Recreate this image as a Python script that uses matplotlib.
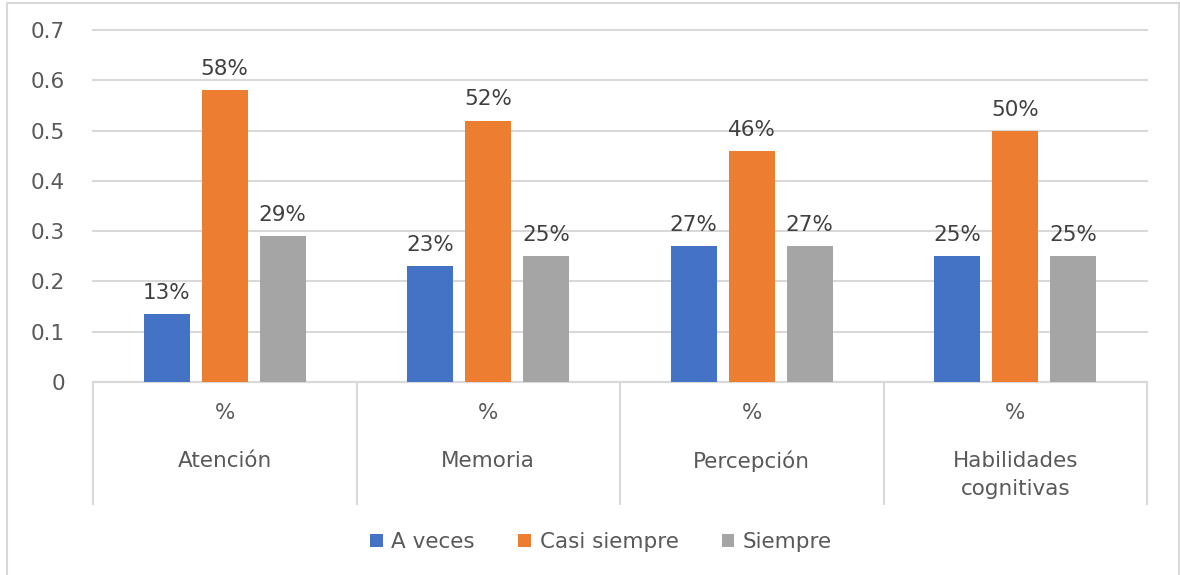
import numpy as np
import matplotlib.pyplot as plt
import matplotlib.patches as mpatches
import matplotlib.transforms as mtransforms

## Data

categorias = ['Atención', 'Memoria', 'Percepción', 'Habilidades\ncognitivas']
a_veces = [0.135, 0.23, 0.27, 0.25]
casi_siempre = [0.58, 0.52, 0.46, 0.50]
siempre = [0.29, 0.25, 0.27, 0.25]
etiquetas = {
    'A veces': ['13%', '23%', '27%', '25%'],
    'Casi siempre': ['58%', '52%', '46%', '50%'],
    'Siempre': ['29%', '25%', '27%', '25%'],
}

## Global Setting

plt.rcParams['font.family'] = ['DejaVu Sans']
plt.rcParams['font.size'] = 15

colores = ['#4472C4', '#ED7D31', '#A5A5A5']
grid_c = '#D9D9D9'
txt_c = '#595959'
fs = 15.5

fig = plt.figure(figsize=(11.8, 5.75), dpi=100)
ax = fig.add_axes([93/1180, 1-382/575, 1054/1180, 352/575])

# outer border
fig.patches.append(mpatches.Rectangle((7/1180, -0.05), 1172/1180, 1.05-3/575,
                                      transform=fig.transFigure, fill=False,
                                      edgecolor=grid_c, lw=1.5))

x = np.arange(len(categorias))
ancho = 0.175
paso = 0.22

series = [('A veces', a_veces), ('Casi siempre', casi_siempre), ('Siempre', siempre)]
for i, (nombre, vals) in enumerate(series):
    bars = ax.bar(x + (i-1)*paso, vals, ancho, color=colores[i], label=nombre, zorder=3)
    for b, t in zip(bars, etiquetas[nombre]):
        ax.text(b.get_x() + b.get_width()/2, b.get_height() + 0.022, t,
                ha='center', va='bottom', color='#404040', fontsize=fs)

ax.set_xlim(-0.5, 3.5)
ax.set_ylim(0, 0.7)
ax.set_yticks(np.arange(0, 0.71, 0.1))
ax.set_yticklabels(['0', '0.1', '0.2', '0.3', '0.4', '0.5', '0.6', '0.7'])
ax.yaxis.grid(True, color=grid_c, lw=1.5, zorder=0)
for gl in ax.get_ygridlines():
    gl.set_clip_on(False)
ax.tick_params(axis='y', length=0, pad=20, colors=txt_c, labelsize=fs)
ax.set_xticks([])
for s in ['top', 'right', 'left']:
    ax.spines[s].set_visible(False)
ax.spines['bottom'].set_color(grid_c)
ax.spines['bottom'].set_linewidth(1.5)

# multi-level category axis
trans = mtransforms.blended_transform_factory(ax.transData, ax.transAxes)
for xs in np.arange(-0.5, len(categorias), 1.0):
    ax.plot([xs, xs], [0, -0.347], color=grid_c, lw=1.5, transform=trans, clip_on=False)
for xi, c in zip(x, categorias):
    ax.text(xi, -0.088, '%', transform=trans, ha='center', va='center', color=txt_c, fontsize=fs)
    ax.text(xi, -0.195, c, transform=trans, ha='center', va='top', color=txt_c,
            fontsize=fs, linespacing=1.5)

leg = fig.legend(loc='center', bbox_to_anchor=(601/1180, 1-542/575), ncol=3, frameon=False,
                 handlelength=0.6, handleheight=0.6, handletextpad=0.4, columnspacing=2.0,
                 fontsize=fs)
for t in leg.get_texts():
    t.set_color(txt_c)

fig.savefig('out.png', dpi=100)
